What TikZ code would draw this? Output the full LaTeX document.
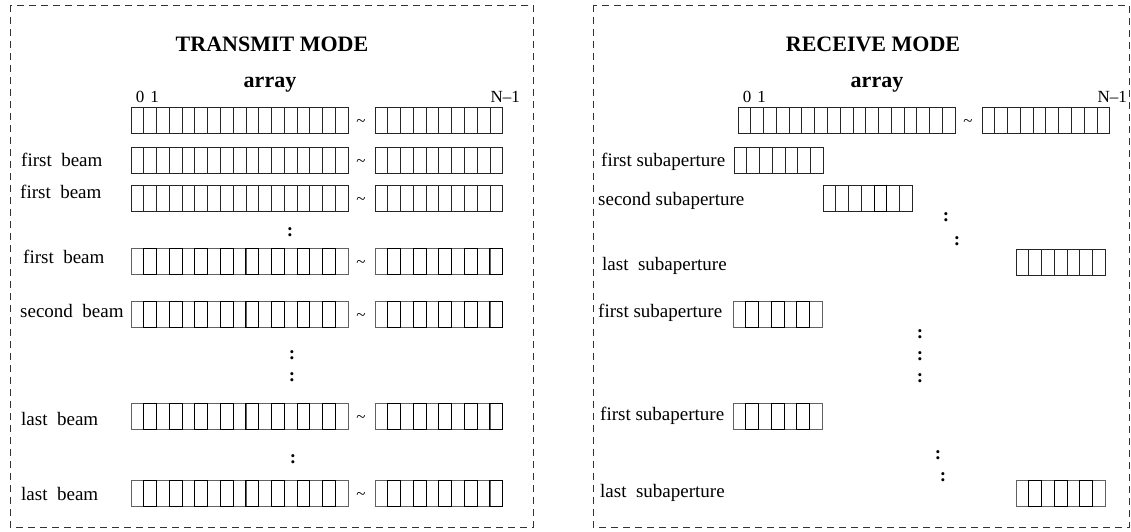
\documentclass[tikz,border=0pt]{standalone}
\usepackage{fontspec}
\setmainfont{Liberation Serif}
% one block of array elements: x, y, cells, 1 = every second cell active
\newcommand{\elems}[4]{%
  \ifnum#4=1 \def\ecol{black!62}\else\def\ecol{black!85}\fi
  \foreach \k in {1,...,#3} \draw[elem, draw=\ecol] ({#1+(\k-1)*12.77},#2) rectangle ++(12.77,26);
  \ifnum#4=1 \foreach \k in {2,4,...,#3} \draw[actv] ({#1+(\k-1)*12.77},#2) rectangle ++(12.77,26); \fi}
\begin{document}
\begin{tikzpicture}[x=1pt, y=-1pt,
  lbl/.style={font=\fontsize{19}{22}\selectfont, anchor=base west, inner sep=0pt},
  ttl/.style={font=\fontsize{22}{26}\selectfont\bfseries, anchor=base, inner sep=0pt},
  idx/.style={font=\fontsize{17}{20}\selectfont, anchor=base, inner sep=0pt},
  dotsym/.style={font=\fontsize{19}{22}\selectfont\bfseries, inner sep=0pt},
  tld/.style={font=\fontsize{17}{20}\selectfont, inner sep=0pt},
  elem/.style={line width=0.8pt},
  actv/.style={draw=black, line width=1pt},
  frame/.style={draw=black!80, line width=0.9pt, dash pattern=on 7pt off 5pt}]
\useasboundingbox (0,0) rectangle (1131,531);
% Frames
\draw[frame] (10,5) rectangle (533,527);
\draw[frame] (593,5) rectangle (1129,527);
% Transmit mode
\node[ttl] (txttl) at (272,51) {TRANSMIT MODE};
\node[ttl] (txarr) at (270,87) {array};
\node[idx] (tx0) at (140,102) {0};
\node[idx] (tx1) at (154.5,102) {1};
\node[idx, anchor=base east] (txn) at (520,102) {N--1};
\foreach \y/\a in {107/0, 147/0, 185/0, 248/1, 301/1, 403/1, 480/1} {
  \elems{131}{\y}{17}{\a}
  \node[tld] at (361,\y+16) {\textasciitilde};
  \elems{375}{\y}{10}{\a}
}
\foreach \n/\x/\y/\t in {txb1/21/166/first, txb2/20/198/first, txb3/23/263/first,
    txb4/20/317/second, txb5/21/425/last, txb6/21/500/last}
  \node[lbl] (\n) at (\x,\y) {\t\ \ beam};
\foreach \n/\x/\y in {txd1/290/232, txd2/292/355, txd3/292/377, txd4/293/459}
  \node[dotsym] (\n) at (\x,\y) {:};
% Receive mode
\node[ttl] (rxttl) at (873,51) {RECEIVE MODE};
\node[ttl] (rxarr) at (877,87) {array};
\node[idx] (rx0) at (747,102) {0};
\node[idx] (rx1) at (761.5,102) {1};
\node[idx, anchor=base east] (rxn) at (1127,102) {N--1};
\elems{738}{107}{17}{0}
\node[tld] at (968,123) {\textasciitilde};
\elems{982}{107}{10}{0}
\elems{734}{147}{7}{0}
\elems{823}{185}{7}{0}
\draw[actv] ({823+4*12.77},185) rectangle ++(12.77,26);
\elems{1016}{249}{7}{0}
\elems{733}{301}{7}{1}
\elems{733}{403}{7}{1}
\elems{1016}{480}{7}{1}
\node[lbl] (rxs1) at (601,166) {first subaperture};
\node[lbl] (rxs2) at (598,205) {second subaperture};
\node[lbl] (rxs3) at (602,270) {last\ \ subaperture};
\node[lbl] (rxs4) at (598,317) {first subaperture};
\node[lbl] (rxs5) at (600,420) {first subaperture};
\node[lbl] (rxs6) at (600,497) {last\ \ subaperture};
\foreach \n/\x/\y in {rxd1/946/217.5, rxd2/957/241, rxd3/920/334, rxd4/920/356,
    rxd5/920/378, rxd6/938/455, rxd7/943/477}
  \node[dotsym] (\n) at (\x,\y) {:};
\end{tikzpicture}
\end{document}
